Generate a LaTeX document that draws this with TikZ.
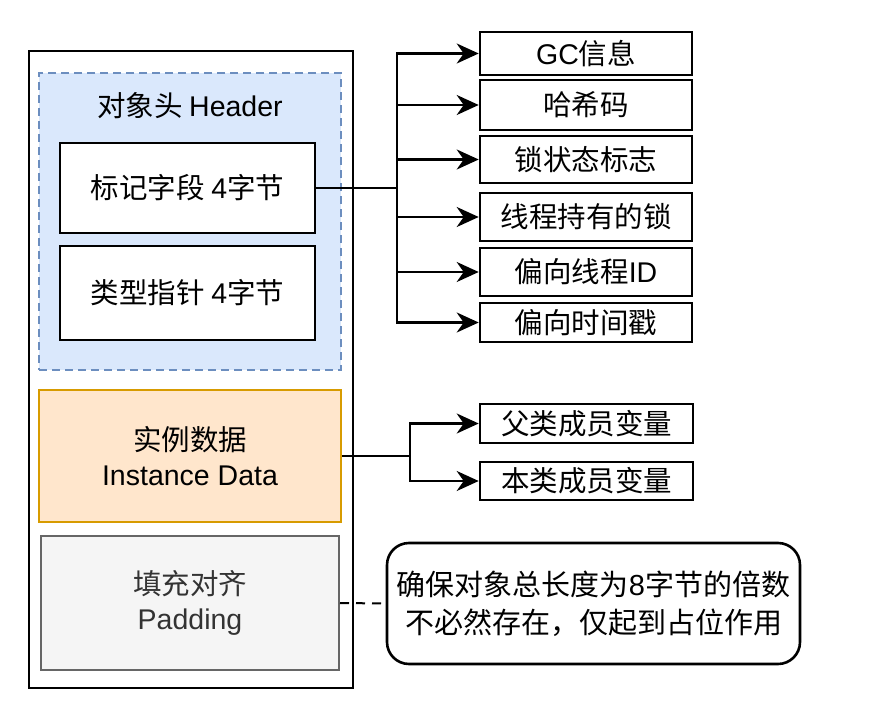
\documentclass[tikz,border=0pt]{standalone}
\usepackage{fontspec}
\setmainfont{Noto Sans CJK SC}
\newfontfamily\lat{Liberation Sans}
\usetikzlibrary{arrows.meta}
\definecolor{hdrfill}{HTML}{DAE8FC}
\definecolor{hdrdraw}{HTML}{6C8EBF}
\definecolor{insfill}{HTML}{FFE6CC}
\definecolor{insdraw}{HTML}{D79B00}
\definecolor{padfill}{HTML}{F5F5F5}
\definecolor{paddraw}{HTML}{666666}
\definecolor{padtext}{HTML}{333333}
\tikzset{
  box/.style={draw=black, line width=2.6pt, fill=white, inner sep=0pt, align=center, font=\fontsize{28.5}{35}\selectfont},
  arr/.style={line width=2.6pt, -{Stealth[length=22pt,width=20pt,inset=7pt]}},
  conn/.style={line width=2.6pt},
}
\begin{document}
\begin{tikzpicture}[x=1pt,y=-1pt]
\useasboundingbox (0,0) rectangle (872,714);
\node[box, minimum width=324pt, minimum height=637pt] (obj) at (191,369.5) {};
\node[box, draw=hdrdraw, fill=hdrfill, dashed, dash pattern=on 8pt off 5pt, line width=2pt, minimum width=302pt, minimum height=297pt] (hdr) at (190,221.5) {};
\node[font=\fontsize{28.5}{35}\selectfont] (hdrtxt) at (190,106) {对象头 {\lat Header}};
\node[box, minimum width=255pt, minimum height=90pt] (mark) at (187.5,188) {标记字段 {\lat 4}字节};
\node[box, minimum width=255pt, minimum height=94pt] (klass) at (187.5,293) {类型指针 {\lat 4}字节};
\node[box, draw=insdraw, fill=insfill, line width=2pt, minimum width=302pt, minimum height=132pt] (inst) at (190,456) {实例数据\\{\lat Instance Data}};
\node[box, draw=paddraw, fill=padfill, text=padtext, line width=2pt, minimum width=298pt, minimum height=134pt] (pad) at (190,603) {填充对齐\\{\lat Padding}};
\node[box, rounded corners=22pt, minimum width=413pt, minimum height=121pt, font=\fontsize{29}{38}\selectfont] (note) at (593.5,603.5) {确保对象总长度为{\lat 8}字节的倍数\\不必然存在，仅起到占位作用};

\node[box, minimum width=212pt, minimum height=43pt] (r1) at (586,53.5) {{\lat GC}信息};
\node[box, minimum width=212pt, minimum height=50pt] (r2) at (586,105) {哈希码};
\node[box, minimum width=212pt, minimum height=47pt] (r3) at (586,159.5) {锁状态标志};
\node[box, minimum width=212pt, minimum height=48pt] (r4) at (586,217) {线程持有的锁};
\node[box, minimum width=212pt, minimum height=48pt] (r5) at (586,272) {偏向线程{\lat ID}};
\node[box, minimum width=212pt, minimum height=39pt] (r6) at (586,322.5) {偏向时间戳};
\node[box, minimum width=213pt, minimum height=39pt] (p1) at (586.5,423.5) {父类成员变量};
\node[box, minimum width=213pt, minimum height=38pt] (p2) at (586.5,481) {本类成员变量};

\coordinate (tr) at (397,188);
\coordinate (tr2) at (410,456);
\draw[conn] (mark.east) -- (tr);
\foreach \n in {r1,r2,r3,r4,r5,r6} \draw[arr] (tr) |- (\n.west);
\draw[conn] (inst.east) -- (tr2);
\foreach \n in {p1,p2} \draw[arr] (tr2) |- (\n.west);
\draw[line width=2pt, dash pattern=on 9pt off 7pt] (pad.east) -- (note.west);
\end{tikzpicture}
\end{document}
